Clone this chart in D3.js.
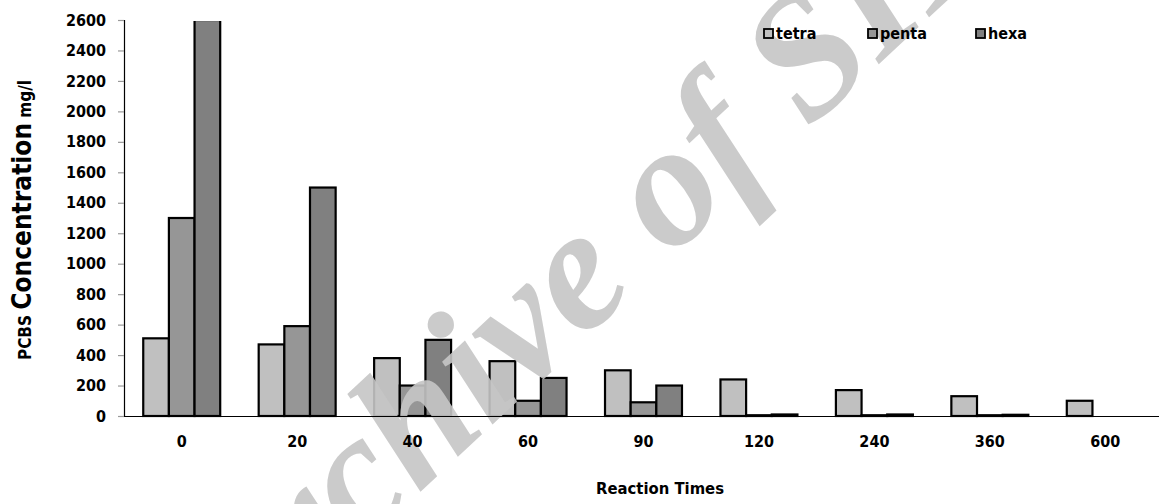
<!DOCTYPE html>
<html>
<head>
<meta charset="utf-8">
<script src="https://cdn.jsdelivr.net/npm/d3@7"></script>
<style>
  body { margin: 0; background: #fff; }
  text { font-family: 'DejaVu Sans Condensed', 'DejaVu Sans', sans-serif; font-stretch: condensed; font-weight: bold; }
</style>
</head>
<body>
<svg id="chart"></svg>
<script>
const width = 1159;
const height = 504;
const plotLeft = 124, plotRight = 1163, plotTop = 20, plotBottom = 416;

// data
const times = ['0', '20', '40', '60', '90', '120', '240', '360', '600'];
const series = ['tetra', 'penta', 'hexa'];
const tetra = [510, 470, 380, 360, 300, 240, 170, 130, 100];
const penta = [1300, 590, 200, 100, 90, 5, 5, 5, 0];
const hexa  = [2600, 1500, 500, 250, 200, 10, 10, 8, 0];
const yTicks = d3.range(0, 2601, 200);
const colors = ['#c0c0c0', '#969696', '#808080'];

const values = { tetra, penta, hexa };

const svg = d3.select('#chart')
    .attr('width', width)
    .attr('height', height);

const x0 = d3.scaleBand()
    .domain(times)
    .range([plotLeft, plotRight]);

const x1 = d3.scaleBand()
    .domain(series)
    .range([x0.bandwidth() / 6, x0.bandwidth() * 5 / 6]);

const y = d3.scaleLinear()
    .domain([0, 2600])
    .range([plotBottom, plotTop]);

const color = d3.scaleOrdinal().domain(series).range(colors);

svg.append('clipPath').attr('id', 'plot-clip')
    .append('rect')
    .attr('x', plotLeft).attr('y', plotTop + 1)
    .attr('width', width - plotLeft).attr('height', plotBottom - plotTop + 4);

// bars
const groups = svg.append('g')
    .attr('clip-path', 'url(#plot-clip)')
    .selectAll('g')
    .data(times)
    .enter()
    .append('g')
    .attr('transform', d => `translate(${x0(d)},0)`);

groups.selectAll('rect')
    .data((t, i) => series.map(s => ({ s, v: values[s][i] })).filter(d => d.v > 0))
    .enter()
    .append('rect')
    .attr('x', d => x1(d.s))
    .attr('y', d => y(d.v))
    .attr('width', x1.bandwidth())
    .attr('height', d => plotBottom - y(d.v))
    .attr('fill', d => color(d.s))
    .attr('stroke', '#000')
    .attr('stroke-width', 2.2);

// watermark
svg.append('text')
    .attr('transform', 'translate(226,673) rotate(-43)')
    .style('font-family', "'Liberation Serif', serif")
    .style('font-stretch', 'normal')
    .style('font-style', 'italic')
    .style('font-weight', 'bold')
    .style('font-size', '175px')
    .attr('fill', '#c6c6c6')
    .attr('opacity', 0.9)
    .text('Archive of SID');

// y axis
const yAxis = svg.append('g')
    .attr('transform', `translate(${plotLeft},0)`)
    .call(d3.axisLeft(y).tickValues(yTicks).tickFormat(d3.format('d')).tickSize(6).tickPadding(12));
yAxis.select('.domain').attr('stroke', '#000').attr('stroke-width', 1.2);
yAxis.selectAll('.tick line').attr('stroke', '#999').attr('stroke-width', 1.2);
yAxis.selectAll('.tick text').style('font-size', '16px').attr('fill', '#000');

// x axis
const xAxis = svg.append('g')
    .attr('transform', `translate(0,${plotBottom})`)
    .call(d3.axisBottom(x0).tickSize(0).tickPadding(20));
xAxis.select('.domain').attr('stroke', '#000').attr('stroke-width', 1.2);
xAxis.selectAll('.tick text').style('font-size', '16px').attr('fill', '#000');

// axis titles
svg.append('text')
    .attr('x', 660).attr('y', 494)
    .attr('text-anchor', 'middle')
    .style('font-size', '16.5px')
    .text('Reaction Times');

const yTitle = svg.append('text')
    .attr('transform', 'translate(31,220) rotate(-90)')
    .attr('text-anchor', 'middle');
yTitle.append('tspan').style('font-size', '17px').text('PCBS ');
yTitle.append('tspan').style('font-size', '26px').text('Concentration');
yTitle.append('tspan').style('font-size', '17px').text(' mg/l');

// legend
const legend = svg.append('g')
    .selectAll('g')
    .data(series)
    .enter()
    .append('g')
    .attr('transform', (d, i) => `translate(${[764, 868, 976][i]},29)`);

legend.append('rect')
    .attr('width', 9).attr('height', 9)
    .attr('fill', d => color(d))
    .attr('stroke', '#000').attr('stroke-width', 1.8);

legend.append('text')
    .attr('x', 12).attr('y', 10)
    .style('font-size', '16px')
    .text(d => d);
</script>
</body>
</html>
